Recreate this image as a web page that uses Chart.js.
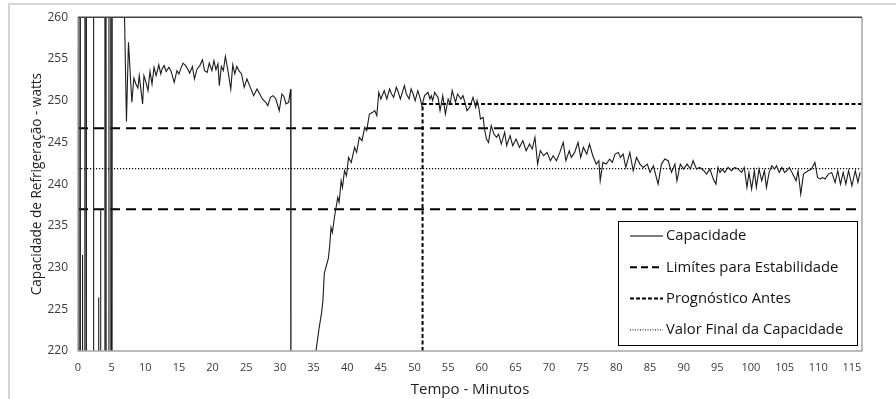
<!DOCTYPE html>
<html>
<head>
<meta charset="utf-8">
<script src="https://cdn.jsdelivr.net/npm/chart.js@4/dist/chart.umd.min.js"></script>
<style>
  html, body { margin: 0; padding: 0; background: #fff; }
  #wrap { width: 896px; height: 399px; }
</style>
</head>
<body>
<div id="wrap"><canvas id="capacidadeChart" width="896" height="399"></canvas></div>
<script>
// tempo (minutos) e capacidade (W); valores fora de 220-260 ficam cortados
const tempo = [
    0, 0.05, 0.25, 0.3, 0.35, 0.6, 0.65, 0.7, 1.0, 1.05,
    1.2, 1.25, 2.25, 2.3, 2.35, 3.0, 3.05, 3.1, 3.15, 3.3,
    3.35, 3.4, 3.95, 4.0, 4.15, 4.2, 4.55, 4.6, 4.85, 4.9,
    5.05, 5.1, 6.8, 7.2,
    7.5, 8.0, 8.3, 8.6, 8.9, 9.1, 9.6, 9.8, 10.1, 10.4,
    10.7, 11.0, 11.3, 11.6, 11.8, 12.0, 12.3, 12.5, 12.8, 13.1,
    13.5, 13.8, 14.3, 14.7, 15.0, 15.3, 15.6, 16.0, 16.3, 16.6,
    17.0, 17.3, 17.7, 18.1, 18.5, 18.8, 19.2, 19.5, 19.9, 20.2,
    20.5, 20.8, 21.0, 21.3, 21.6, 21.9, 22.3, 22.7, 23.0, 23.3,
    23.6, 23.9, 24.3, 24.7, 25.1, 25.5, 26.1, 26.6, 27.0, 27.4,
    27.9, 28.2, 28.6, 29.0, 29.4, 29.9, 30.3, 30.6, 30.9, 31.3,
    31.6, 31.65,
    35.2, 35.8, 36.2, 36.4, 36.6, 37.2, 37.4, 37.6, 37.8, 38.1,
    38.6, 38.8, 39.1, 39.3, 39.6, 39.9, 40.2, 40.6, 41.1, 41.4,
    41.8, 42.2, 42.6, 42.9, 43.3, 43.8, 44.1, 44.4, 44.7, 45.0,
    45.5, 45.9, 46.3, 46.6, 46.9, 47.3, 47.6, 47.9, 48.2, 48.5,
    48.8, 49.2, 49.5, 49.8, 50.1, 50.5, 50.8, 51.1, 51.5, 52.0,
    52.3, 52.5, 52.7, 53.0, 53.3, 53.5, 53.8, 54.2, 54.6, 55.0,
    55.3, 55.6, 56.1, 56.4, 56.9, 57.2, 57.5, 57.8, 58.2, 58.7,
    59.1, 59.3, 59.6, 59.8, 60.2, 60.4, 60.7, 61.0, 61.4, 61.8,
    62.2, 62.5, 62.9, 63.4, 63.7, 64.2, 64.6, 65.1, 65.6, 66.1,
    66.6, 67.1, 67.5, 67.9, 68.3, 68.7, 69.2, 69.7, 70.2, 70.6,
    71.1, 71.6, 72.1, 72.5, 73.0, 73.3, 73.8, 74.3, 74.7, 75.1,
    75.6, 76.0, 76.5, 77.0, 77.4, 77.6, 78.0, 78.5, 79.0, 79.4,
    79.8, 80.3, 80.6, 81.0, 81.4, 82.0, 82.5, 83.0, 83.5, 84.0,
    84.6, 85.0, 85.5, 86.2, 86.7, 87.2, 87.7, 88.2, 88.7, 89.0,
    89.5, 90.0, 90.5, 91.0, 91.4, 91.9, 92.4, 93.0, 93.4, 93.9,
    94.4, 94.8, 95.1, 95.4, 95.7, 96.1, 96.6, 97.1, 97.6, 98.1,
    98.6, 99.0, 99.4, 99.7, 100.1, 100.5, 100.8, 101.2, 101.6, 102.0,
    102.3, 102.7, 103.1, 103.5, 103.8, 104.2, 104.6, 105.0, 105.3, 105.7,
    106.1, 106.7, 107.0, 107.4, 107.8, 108.1, 108.5, 109.0, 109.5, 109.9,
    110.3, 110.6, 111.0, 111.5, 112.0, 112.5, 112.9, 113.3, 113.7, 114.1,
    114.5, 115.0, 115.5, 115.9, 116.2
];
const capacidade = [
    300, 185, 185, 300, 185, 185, 231.5, 185, 185, 300,
    300, 185, 185, 300, 185, 185, 226.4, 222.8, 185, 185,
    237, 185, 185, 300, 300, 185, 185, 300, 300, 185,
    185, 300, 265, 247.5,
    257, 249.8, 252.7, 252, 251.5, 253, 249.6, 253, 252.2, 251.2,
    253.5, 252, 254, 253, 253.6, 254.3, 253.2, 253.8, 254.2, 253.5,
    254, 253.6, 252.2, 253.6, 253.2, 253.9, 254.5, 254.2, 253.8, 253.3,
    254.1, 252.6, 253.8, 254.2, 254.9, 253.6, 253.4, 254.5, 253.6, 254.8,
    253.7, 254.4, 251.8, 254.1, 253.6, 255.3, 253.5, 251.4, 254.3, 253.2,
    254.1, 253.6, 253.2, 251.6, 252.6, 251.8, 250.6, 251.4, 250.8, 250.2,
    249.8, 249.4, 250.4, 250.6, 250.2, 248.8, 250.8, 250.5, 249.6, 249.8,
    251.4, 180,
    219, 222.6, 224.6, 226.1, 229.3, 231.1, 232.6, 234.8, 234.2, 236.0,
    238.4, 237.8, 240.4, 239.6, 241.6, 241.0, 243.2, 242.6, 244.4, 243.8,
    245.6, 245.2, 246.8, 246.4, 248.4, 248.6, 248.8, 248.2, 251, 250.2,
    251.2, 250.2, 251.4, 250.8, 250.4, 251.6, 251.0, 250.2, 251.0, 251.8,
    250.8, 250.2, 251.4, 250.8, 250, 251.2, 250.4, 249.4, 250.6, 251,
    250.2, 250.6, 250, 251, 250.6, 250.4, 248.8, 250.6, 248.4, 250.2,
    249.6, 251.2, 249.8, 250.8, 250.2, 250.6, 249.8, 248.8, 249.2, 250.4,
    249.2, 250, 249, 247.8, 248, 246.6, 245.4, 245, 247, 246,
    245.6, 246, 244.8, 246.2, 244.6, 245.8, 244.6, 245.4, 244.4, 245.2,
    244, 244.8, 244.2, 245.6, 242.4, 244, 243.4, 243.8, 242.8, 243.4,
    242.8, 243.8, 245, 242.8, 244, 243.2, 243.8, 245, 243.2, 244.4,
    243.6, 244.8, 243.4, 242.4, 242.8, 240.4, 242.6, 242.4, 243, 242.6,
    243.6, 243.8, 243.2, 243.6, 242, 243.8, 241.6, 243.2, 242.4, 242,
    242.4, 241.4, 242.2, 240, 242.4, 243, 242.8, 241.4, 242.4, 240.4,
    242.4, 241.8, 242.4, 241.8, 242.8, 241.8, 242, 241.6, 241.2, 241.8,
    240.6, 240, 242, 241.4, 241.8, 241.4, 242, 241.6, 242, 241.8,
    241.4, 242, 239.6, 241.4, 239.4, 241.6, 239.6, 241.8, 240.4, 241.6,
    239.6, 241.4, 242.2, 241.8, 242.2, 241.4, 242, 241.4, 241.6, 242,
    241.4, 240.4, 241.6, 238.8, 241.2, 241.4, 241.6, 241.8, 242.6, 240.8,
    240.6, 240.8, 240.6, 241.2, 241.4, 240.2, 241.6, 240, 241.4, 240,
    241.6, 239.8, 241.6, 240.2, 241.4
];
const limites = [246.7, 237.0];
const tempoPrognostico = 51.2;
const prognostico = 249.6;
const valorFinal = 241.85;
const tempoFinal = 116.5;
const legendas = ['Capacidade', 'Limítes para Estabilidade', 'Prognóstico Antes', 'Valor Final da Capacidade'];

const fonte = '"Open Sans", sans-serif';

function linha(y) {
    return [{x: 0, y}, {x: tempoFinal, y}];
}

// molduras e legenda em caixa, como no gráfico original
const molduraPlugin = {
    id: 'moldura',
    beforeDraw(chart) {
        let ctx = chart.ctx;
        ctx.save();
        ctx.fillStyle = '#fff';
        ctx.fillRect(0, 0, chart.width, chart.height);
        ctx.strokeStyle = '#c8c8c8';
        ctx.lineWidth = 1.5;
        ctx.beginPath();
        ctx.moveTo(9, chart.height);
        ctx.lineTo(9, 4);
        ctx.lineTo(chart.width, 4);
        ctx.stroke();
        ctx.restore();
    },
    afterDraw(chart) {
        let ctx = chart.ctx;
        let a = chart.chartArea;
        ctx.save();
        ctx.lineWidth = 1.5;
        ctx.strokeStyle = '#a6a6a6';
        ctx.beginPath();
        ctx.moveTo(a.left, a.top);
        ctx.lineTo(a.left, a.bottom);
        ctx.lineTo(a.right, a.bottom);
        ctx.lineTo(a.right, a.top);
        ctx.stroke();
        ctx.strokeStyle = '#444';
        ctx.beginPath();
        ctx.moveTo(a.left, a.top);
        ctx.lineTo(a.right, a.top);
        ctx.stroke();

        // legenda
        let box = {x: a.right - 244, y: a.bottom - 130, w: 239, h: 124};
        ctx.fillStyle = '#fff';
        ctx.fillRect(box.x, box.y, box.w, box.h);
        ctx.strokeStyle = '#000';
        ctx.lineWidth = 1;
        ctx.strokeRect(box.x + 0.5, box.y + 0.5, box.w, box.h);
        let amostras = [
            {dash: [], width: 1},
            {dash: [7, 4], width: 2},
            {dash: [4, 2], width: 2},
            {dash: [1, 1.5], width: 1}
        ];
        ctx.font = '14.8px ' + fonte;
        ctx.textBaseline = 'middle';
        legendas.forEach((texto, i) => {
            let y = box.y + 15 + i * 31.3;
            ctx.strokeStyle = '#000';
            ctx.lineWidth = amostras[i].width;
            ctx.setLineDash(amostras[i].dash);
            ctx.beginPath();
            ctx.moveTo(box.x + 12, y);
            ctx.lineTo(box.x + 45, y);
            ctx.stroke();
            ctx.setLineDash([]);
            ctx.fillStyle = '#141414';
            ctx.fillText(texto, box.x + 48, y);
        });
        ctx.restore();
    }
};

let canvas = document.getElementById('capacidadeChart').getContext('2d');
let capacidadeChart = new Chart(canvas, {
    type: 'line',
    data: {
        datasets: [
            {
                label: legendas[0],
                data: tempo.map((t, i) => ({x: t, y: capacidade[i]})),
                borderColor: '#1c1c1c',
                borderWidth: 1.1,
                pointRadius: 0,
                tension: 0,
                clip: 0
            },
            {
                label: legendas[1],
                data: linha(limites[0]),
                borderColor: '#000',
                borderWidth: 2,
                borderDash: [10, 6],
                pointRadius: 0
            },
            {
                label: legendas[1],
                data: linha(limites[1]),
                borderColor: '#000',
                borderWidth: 2,
                borderDash: [10, 6],
                pointRadius: 0
            },
            {
                label: legendas[2],
                data: [
                    {x: tempoPrognostico, y: 220},
                    {x: tempoPrognostico, y: prognostico},
                    {x: tempoFinal, y: prognostico}
                ],
                borderColor: '#000',
                borderWidth: 2,
                borderDash: [4, 2.5],
                pointRadius: 0
            },
            {
                label: legendas[3],
                data: linha(valorFinal),
                borderColor: '#000',
                borderWidth: 1.2,
                borderDash: [1.2, 1.8],
                pointRadius: 0
            }
        ]
    },
    options: {
        responsive: false,
        animation: false,
        layout: { padding: { top: 16, right: 34, left: 0, bottom: 0 } },
        plugins: {
            legend: { display: false },
            tooltip: { enabled: false }
        },
        scales: {
            x: {
                type: 'linear',
                min: 0,
                max: tempoFinal,
                grid: { display: false, drawTicks: false },
                border: { display: false },
                ticks: {
                    stepSize: 5,
                    includeBounds: false,
                    autoSkip: false,
                    maxRotation: 0,
                    padding: 10,
                    color: '#3a3a3a',
                    font: { family: fonte, size: 11 }
                },
                title: {
                    display: true,
                    text: 'Tempo - Minutos',
                    color: '#1e1e1e',
                    font: { family: fonte, size: 15 },
                    padding: { top: 0, bottom: 0 }
                },
                afterFit: scale => { scale.height = 48; }
            },
            y: {
                min: 220,
                max: 260,
                grid: { display: false, drawTicks: false },
                border: { display: false },
                ticks: {
                    stepSize: 5,
                    padding: 10,
                    color: '#3a3a3a',
                    font: { family: fonte, size: 12 }
                },
                title: {
                    display: true,
                    text: 'Capacidade de Refrigeração - watts',
                    color: '#1e1e1e',
                    font: { family: fonte, size: 13.6 },
                    padding: { top: 29, bottom: 0 }
                },
                afterFit: scale => { scale.width = 78; }
            }
        }
    },
    plugins: [molduraPlugin]
});
</script>
</body>
</html>
